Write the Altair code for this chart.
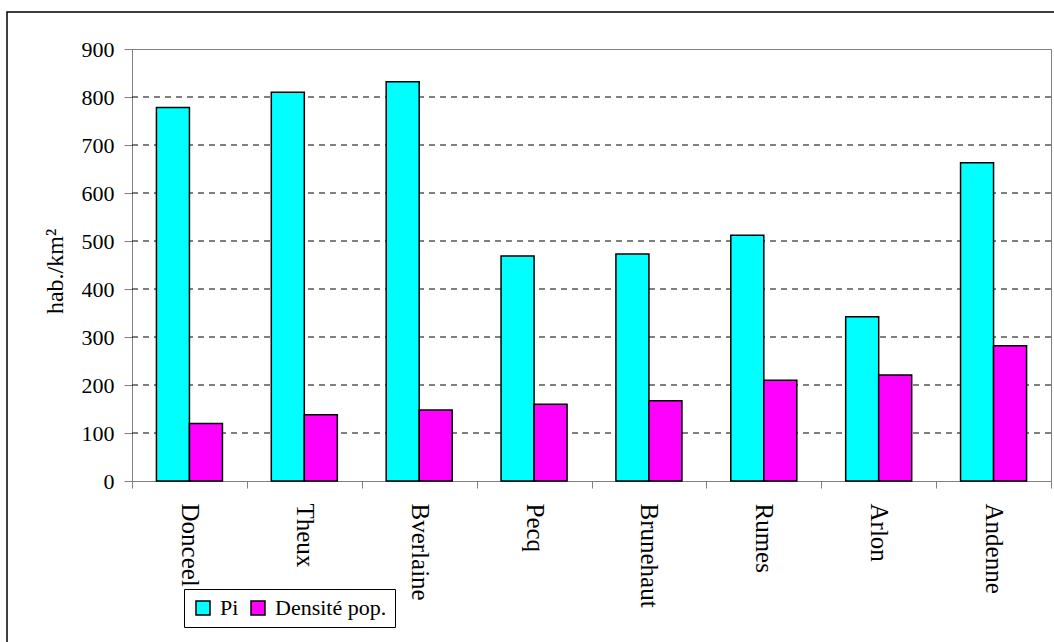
import altair as alt
import pandas as pd

# Communes and their two series (hab./km²)
communes = ["Donceel", "Theux", "Bverlaine", "Pecq", "Brunehaut", "Rumes", "Arlon", "Andenne"]
pi_values = [778, 810, 832, 469, 473, 512, 342, 663]
densite_values = [120, 138, 148, 160, 167, 210, 221, 282]

series_names = ["Pi", "Densité pop."]
series_colors = ["#00FFFF", "#FF00FF"]
y_ticks = [0, 100, 200, 300, 400, 500, 600, 700, 800, 900]
grid_values = [100, 200, 300, 400, 500, 600, 700, 800]

FONT = "Liberation Serif"

rows = []
for commune, pi, dens in zip(communes, pi_values, densite_values):
    rows.append({"commune": commune, "serie": series_names[0], "valeur": pi})
    rows.append({"commune": commune, "serie": series_names[1], "valeur": dens})
df = pd.DataFrame(rows)
grid_df = pd.DataFrame({"niveau": grid_values})

y_scale = alt.Scale(domain=[0, 900], nice=False)

bars = alt.Chart(df).mark_bar(stroke="black", strokeWidth=1.5).encode(
    x=alt.X(
        "commune:N",
        sort=communes,
        title=None,
        scale=alt.Scale(paddingInner=0, paddingOuter=0),
        axis=alt.Axis(
            tickBand="extent",
            labelAngle=90,
            labelAlign="left",
            labelBaseline="middle",
            labelPadding=15,
            labelFontSize=25,
            tickSize=7,
            tickColor="#808080",
            domainColor="#808080",
            grid=False,
        ),
    ),
    xOffset=alt.XOffset(
        "serie:N",
        sort=series_names,
        scale=alt.Scale(domain=series_names, paddingInner=0, paddingOuter=0.74),
    ),
    y=alt.Y(
        "valeur:Q",
        scale=y_scale,
        axis=alt.Axis(
            values=y_ticks,
            title="hab./km²",
            titleAngle=270,
            titleX=-77,
            titleY=222,
            titleAlign="center",
            titleBaseline="middle",
            titleFontSize=24,
            labelPadding=10,
            labelFontSize=22,
            tickSize=8,
            tickColor="#808080",
            domainColor="#808080",
            grid=False,
        ),
    ),
    color=alt.Color(
        "serie:N",
        sort=series_names,
        scale=alt.Scale(domain=series_names, range=series_colors),
        legend=alt.Legend(
            title=None,
            orient="none",
            legendX=52,
            legendY=540,
            direction="horizontal",
            symbolType="square",
            symbolSize=196,
            symbolStrokeColor="black",
            symbolStrokeWidth=1.5,
            labelFontSize=22,
            labelOffset=6,
            columnPadding=8,
            padding=8,
            strokeColor="black",
            fillColor="white",
        ),
    ),
)

# Dashed horizontal gridlines between 0 and the top of the plot
grid = alt.Chart(grid_df).mark_rule(color="black", strokeDash=[6, 5], strokeWidth=1).encode(
    y=alt.Y("niveau:Q", scale=y_scale)
)

# Outer frame around the whole figure
frame = alt.Chart(alt.Data(values=[{"k": 1}])).mark_rect(
    fill=None, stroke="black", strokeWidth=1.5
).encode(
    x=alt.value(-125),
    x2=alt.value(935),
    y=alt.value(-37),
    y2=alt.value(605),
)

chart = alt.layer(frame, grid, bars).properties(
    width=919,
    height=432,
    autosize=alt.AutoSizeParams(type="none"),
    padding={"left": 132, "top": 49, "right": 3, "bottom": 161},
    background="white",
).configure_view(
    stroke="#808080", strokeWidth=1
).configure_axis(
    labelFont=FONT,
    labelColor="black",
    titleFont=FONT,
    titleFontWeight="normal",
    titleColor="black",
).configure_legend(
    labelFont=FONT,
    labelColor="black",
)

chart.save("out.html", embed_options={"renderer": "svg", "actions": False})
